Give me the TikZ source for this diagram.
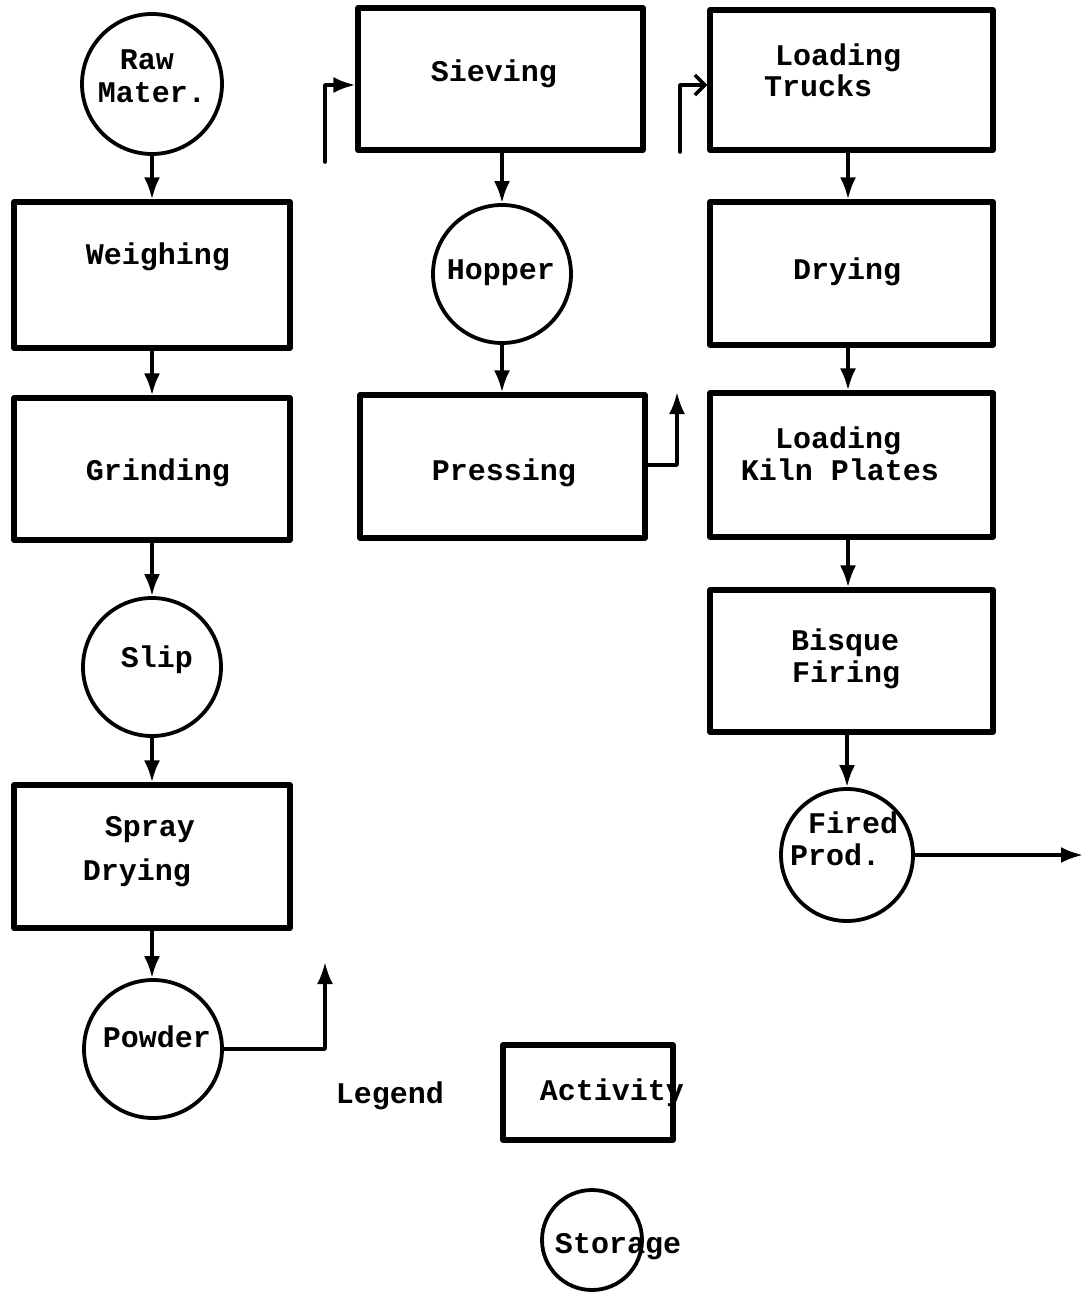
\documentclass[tikz,border=0pt]{standalone}
\usepackage{fontspec}
\setmonofont{Liberation Mono}
\usetikzlibrary{arrows.meta}
\begin{document}
\begin{tikzpicture}[x=0.5pt,y=-0.5pt,
  box/.style={draw,line width=2.6pt,rectangle,inner sep=0pt},
  store/.style={draw,line width=1.9pt,circle,inner sep=0pt},
  txt/.style={font=\ttfamily\bfseries\fontsize{15}{16.5}\selectfont,inner sep=0pt,anchor=base},
  flow/.style={line width=1.8pt,-{Latex[length=11pt,width=8pt]}},
  openflow/.style={line width=1.8pt,-{Straight Barb[length=5pt,width=10pt,line width=1.8pt]}},
  line join=round]
\useasboundingbox (0,0) rectangle (1084,1294);

% ---- left column ----
\node[store,minimum size=70pt] (raw) at (152,84) {};
\node[box,minimum width=138pt,minimum height=73pt] (weigh) at (152,275) {};
\node[box,minimum width=138pt,minimum height=71pt] (grind) at (152,469) {};
\node[store,minimum size=69pt] (slip) at (152,667) {};
\node[box,minimum width=138pt,minimum height=71.5pt] (spray) at (152,856.5) {};
\node[store,minimum size=69pt] (powder) at (153,1049) {};

% ---- middle column ----
\node[box,minimum width=142.5pt,minimum height=71pt] (sieve) at (500.5,79) {};
\node[store,minimum size=69pt] (hopper) at (502,274) {};
\node[box,minimum width=142.5pt,minimum height=71.5pt] (press) at (502.5,466.5) {};

% ---- right column ----
\node[box,minimum width=141.5pt,minimum height=70pt] (trucks) at (851.5,80) {};
\node[box,minimum width=141.5pt,minimum height=71.5pt] (drying) at (851.5,273.5) {};
\node[box,minimum width=141.5pt,minimum height=72pt] (kiln) at (851.5,465) {};
\node[box,minimum width=141.5pt,minimum height=71pt] (bisque) at (851.5,661) {};
\node[store,minimum size=66pt] (fired) at (847,855) {};

% ---- legend ----
\node[box,minimum width=85pt,minimum height=47.5pt] (activity) at (588,1092.5) {};
\node[store,minimum size=50pt] (storage) at (592,1240) {};

% ---- texts ----
\node[txt] (raw-t1) at (147,70) {Raw};
\node[txt] (raw-t2) at (152,103) {Mater.};
\node[txt] (weigh-t) at (158,265) {Weighing};
\node[txt] (grind-t) at (158,480) {Grinding};
\node[txt] (slip-t) at (157,667) {Slip};
\node[txt] (spray-t1) at (150,836) {Spray};
\node[txt] (spray-t2) at (137,880) {Drying};
\node[txt] (powder-t) at (157,1047) {Powder};
\node[txt] (sieve-t) at (494,82) {Sieving};
\node[txt] (hopper-t) at (501,280) {Hopper};
\node[txt] (press-t) at (504,480) {Pressing};
\node[txt] (trucks-t1) at (838,66) {Loading};
\node[txt] (trucks-t2) at (818,97) {Trucks};
\node[txt] (drying-t) at (847,280) {Drying};
\node[txt] (kiln-t1) at (838,448) {Loading};
\node[txt] (kiln-t2) at (840,480) {Kiln Plates};
\node[txt] (bisque-t1) at (845,650) {Bisque};
\node[txt] (bisque-t2) at (846,682) {Firing};
\node[txt] (fired-t1) at (853,833) {Fired};
\node[txt] (fired-t2) at (835,865) {Prod.};
\node[txt] (legend-t) at (390,1103) {Legend};
\node[txt] (activity-t) at (612,1100) {Activity};
\node[txt] (storage-t) at (618,1253) {Storage};

% ---- vertical flows ----
\draw[flow] (raw.south) -- (raw.south |- weigh.north);
\draw[flow] (weigh.south) -- (grind.north);
\draw[flow] (grind.south) -- (slip.north);
\draw[flow] (slip.south) -- (spray.north);
\draw[flow] (spray.south) -- (spray.south |- powder.north);
\draw[flow] (sieve.south -| hopper.north) -- (hopper.north);
\draw[flow] (hopper.south) -- (press.north -| hopper.south);
\draw[flow] ([xshift=-1.75pt]trucks.south) -- ([xshift=-1.75pt]drying.north);
\draw[flow] ([xshift=-1.75pt]drying.south) -- ([xshift=-1.75pt]kiln.north);
\draw[flow] ([xshift=-1.75pt]kiln.south) -- ([xshift=-1.75pt]bisque.north);
\draw[flow] (bisque.south -| fired.north) -- (fired.north);

% ---- feeds ----
\coordinate (pw-end) at (325,962);
\draw[flow] (powder.east) -| (pw-end);
\coordinate (sv-start) at (325,162);
\draw[flow,line cap=round] (sv-start) |- (sieve.west |- 0,85);
\coordinate (pr-end) at (677,392);
\draw[flow] (press.east |- 0,465) -| (pr-end);
\coordinate (tr-start) at (680,152);
\draw[openflow,line cap=round] (tr-start) |- (trucks.west |- 0,85);
\coordinate (fp-end) at (1083,855);
\draw[flow] (fired.east) -- (fp-end);
\end{tikzpicture}
\end{document}
